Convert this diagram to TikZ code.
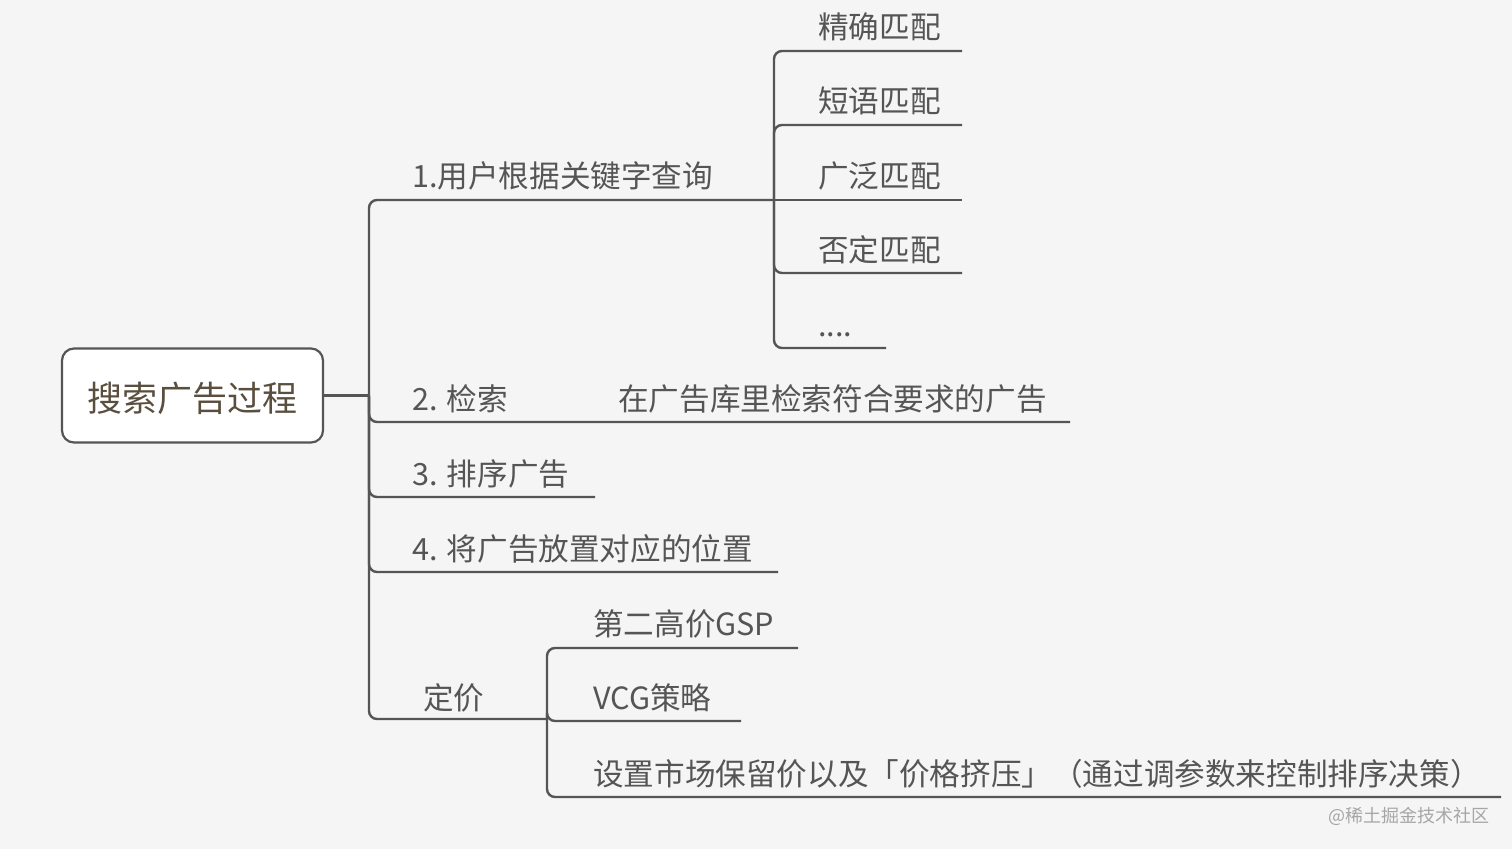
\documentclass[tikz,border=0pt]{standalone}
\usepackage{fontspec}
\setmainfont{Noto Sans CJK SC}
\definecolor{bg}{HTML}{F5F5F5}
\definecolor{ln}{HTML}{555555}
\definecolor{txt}{HTML}{555555}
\definecolor{roottxt}{HTML}{5A4E3E}
\definecolor{wm}{HTML}{A6A6A6}
\begin{document}
\begin{tikzpicture}[x=1pt,y=-1pt,
  br/.style={draw=ln,line width=2.4pt,rounded corners=8pt},
  lbl/.style={anchor=base west,inner sep=0pt,text=txt,font=\fontsize{30.6pt}{36pt}\selectfont},
  rootbox/.style={draw=ln,line width=2.2pt,fill=white,rounded corners=12pt,minimum width=261pt,minimum height=94pt,inner sep=0pt,text height=35pt,text depth=3.4pt,text=roottxt,font=\fontsize{35pt}{42pt}\selectfont},
  wmark/.style={anchor=base west,inner sep=0pt,text=wm,font=\fontsize{18pt}{22pt}\selectfont}]
\useasboundingbox (0,0) rectangle (1512,849);
\fill[bg] (0,0) rectangle (1512,849);

% root
\node[rootbox] (root) at (192.5,395.5) {搜索广告过程};

% junction points and free ends
\coordinate (hub) at (369,395.5);
\coordinate (j1) at (774,200);
\coordinate (f1) at (962,51);
\coordinate (f2) at (962,125);
\coordinate (f3) at (962,200);
\coordinate (f4) at (962,273);
\coordinate (f5) at (886,348);
\coordinate (e2) at (1070,422);
\coordinate (e3) at (595,497);
\coordinate (e4) at (778,572);
\coordinate (j5) at (547,719);
\coordinate (g1) at (798,648);
\coordinate (g2) at (741,721);
\coordinate (g3) at (1501,797);

% connectors
\draw[br] (root.east) -- (hub);
\draw[br] (hub) |- (j1);
\draw[br] (hub) |- (e2);
\draw[br] (hub) |- (e3);
\draw[br] (hub) |- (e4);
\draw[br] (hub) |- (j5);
\draw[br] (j1) |- (f1);
\draw[br] (j1) |- (f2);
\draw[br] (j1) -- (f3);
\draw[br] (j1) |- (f4);
\draw[br] (j1) |- (f5);
\draw[br] (j5) |- (g1);
\draw[br] (j5) |- (g2);
\draw[br] (j5) |- (g3);

% labels
\node[lbl] (b1) at (412,187) {1.用户根据关键字查询};
\node[lbl] (s1) at (818,38) {精确匹配};
\node[lbl] (s2) at (818,112) {短语匹配};
\node[lbl] (s3) at (818,187) {广泛匹配};
\node[lbl] (s4) at (818,261) {否定匹配};
\node[lbl] (s5) at (818,336) {....};
\node[lbl] (b2) at (412,410) {2. 检索};
\node[lbl] (b2c) at (618,410) {在广告库里检索符合要求的广告};
\node[lbl] (b3) at (412,485) {3. 排序广告};
\node[lbl] (b4) at (412,560) {4. 将广告放置对应的位置};
\node[lbl] (b5) at (423,709) {定价};
\node[lbl] (p1) at (593,635) {第二高价GSP};
\node[lbl] (p2) at (593,709) {VCG策略};
\node[lbl] (p3) at (593,785) {设置市场保留价以及「价格挤压」（通过调参数来控制排序决策）};

% watermark
\node[wmark] (wmk) at (1328,822) {@稀土掘金技术社区};
\end{tikzpicture}
\end{document}
